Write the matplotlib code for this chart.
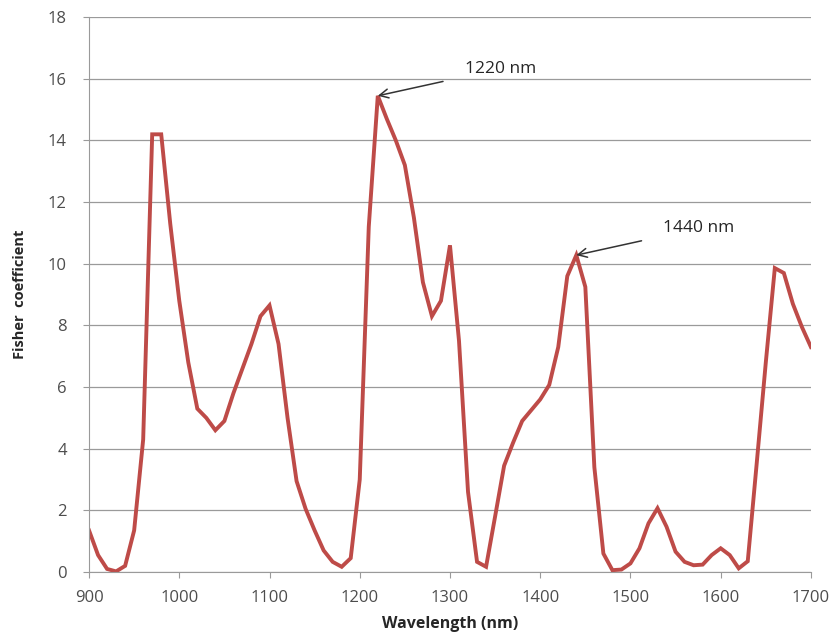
import matplotlib.pyplot as plt
import numpy as np

# Fisher coefficient sampled every 10 nm
wavelength = np.arange(900, 1701, 10)
fisher = [1.35, 0.55, 0.1, 0.02, 0.2, 1.35, 4.3, 14.2, 14.2, 11.3,
          8.8, 6.8, 5.3, 5.0, 4.6, 4.9, 5.8, 6.6, 7.4, 8.3,
          8.65, 7.4, 5.0, 2.95, 2.05, 1.35, 0.7, 0.33, 0.17, 0.45,
          3.0, 11.2, 15.45, 14.7, 14.0, 13.2, 11.5, 9.4, 8.3, 8.8,
          10.6, 7.5, 2.6, 0.33, 0.17, 1.8, 3.45, 4.2, 4.9, 5.25,
          5.6, 6.07, 7.3, 9.6, 10.28, 9.25, 3.4, 0.6, 0.06, 0.08,
          0.28, 0.77, 1.58, 2.07, 1.47, 0.66, 0.33, 0.22, 0.24, 0.55,
          0.77, 0.55, 0.12, 0.35, 3.55, 6.8, 9.86, 9.7, 8.7, 7.95,
          7.3]

peaks = [(1220, "1220 nm"), (1440, "1440 nm")]

plt.rcParams['font.family'] = ['Open Sans', 'DejaVu Sans']
fig = plt.figure(figsize=(8.36, 6.37), dpi=100)
ax = fig.add_axes([0.1065, 0.102, 0.8635, 0.871])

ax.plot(wavelength, fisher, color='#BE4B48', lw=2.8, solid_joinstyle='miter')

ax.set_xlim(900, 1700)
ax.set_ylim(0, 18)
ax.set_xticks(range(900, 1701, 100))
ax.set_yticks(range(0, 19, 2))
ax.grid(axis='y', color='#9a9a9a', lw=0.9)
ax.set_axisbelow(True)
for s in ['top', 'right']:
    ax.spines[s].set_visible(False)
for s in ['left', 'bottom']:
    ax.spines[s].set_color('#9a9a9a')
ax.tick_params(axis='both', colors='#9a9a9a', labelcolor='#4d4d4d',
               labelsize=12, length=4, direction='out')
ax.tick_params(axis='x', pad=9)
ax.tick_params(axis='y', pad=12)

ax.set_xlabel('Wavelength (nm)', fontsize=11.5, fontweight='bold', color='#262626', va='center')
ax.set_ylabel('Fisher  coefficient', fontsize=10.5, fontweight='bold', color='#262626', va='center')
ax.xaxis.set_label_coords(0.5, -0.094)
ax.yaxis.set_label_coords(-0.096, 0.5)

idx = {w: v for w, v in zip(wavelength, fisher)}
for w, label in peaks:
    ax.annotate(label, xy=(w, idx[w]), xytext=(87, 27), textcoords='offset pixels',
                fontsize=12.5, color='#262626', va='center', ha='left',
                arrowprops=dict(arrowstyle='->', color='#333333', lw=1.1,
                                shrinkA=14, shrinkB=0, mutation_scale=16))

fig.savefig('out.png')
